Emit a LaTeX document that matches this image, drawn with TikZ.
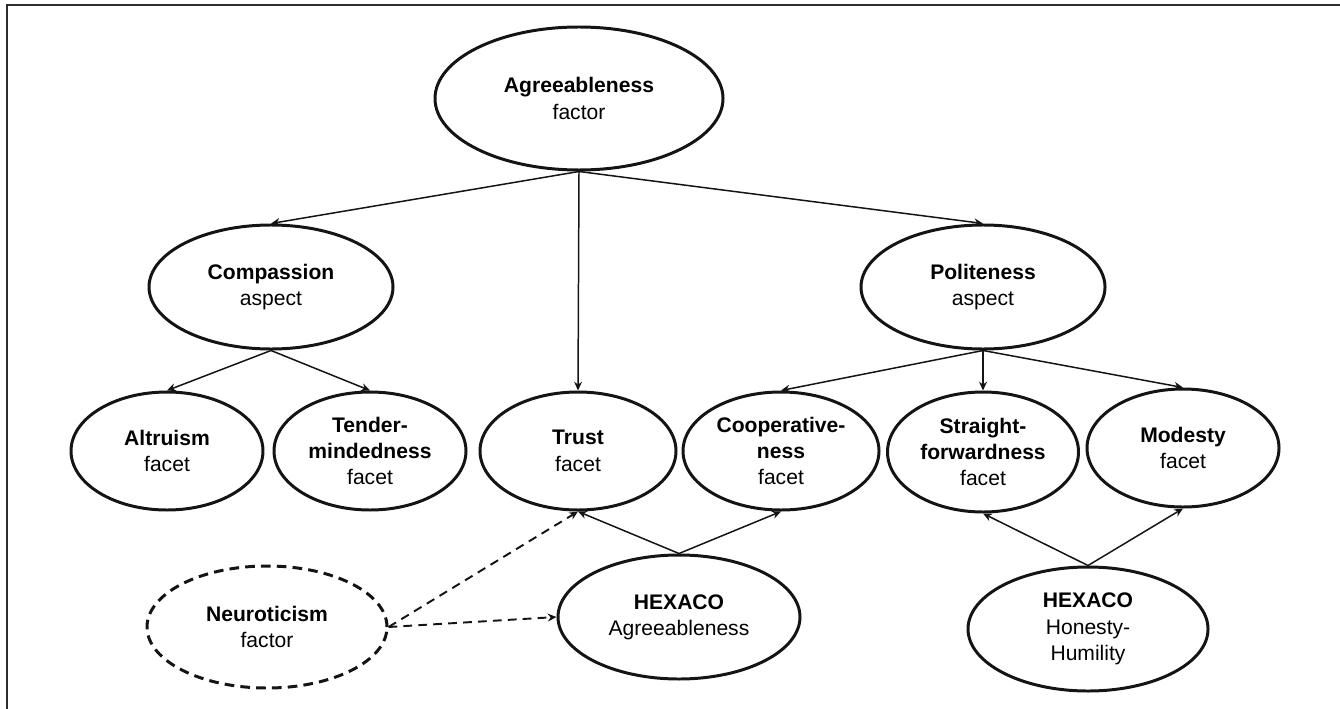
\documentclass[tikz,border=0pt]{standalone}
\usepackage{fontspec}
\setmainfont{Liberation Sans}
\usetikzlibrary{arrows.meta,shapes.geometric}
\definecolor{ink}{RGB}{20,20,20}
\definecolor{frame}{RGB}{45,45,45}
\tikzset{
  >={Stealth[length=5pt,width=4.5pt]},
  trait/.style={ellipse,draw=ink,line width=1.7pt,inner sep=0pt,
    minimum width=#1,minimum height=2.36cm,align=center,
    font=\fontsize{12}{15}\selectfont},
  trait/.default=3.84cm,
  big trait/.style={trait=4.88cm,minimum height=2.48cm},
  ghost trait/.style={trait=4.8cm,minimum height=2.44cm,dash pattern=on 5.5pt off 3.5pt},
  link/.style={->,draw=ink,line width=0.85pt},
  ghost link/.style={link,line width=1.1pt,dash pattern=on 5pt off 3.5pt},
}
\newcommand{\lvl}[2]{\textbf{#1}\\#2}

\begin{document}
\begin{tikzpicture}
  \useasboundingbox (0,0) rectangle (26.8,-14.18);
  % frame (top and left edges only)
  \draw[frame,line width=0.9pt] (26.8,-0.1) -- (0.14,-0.1) -- (0.14,-14.18);

  % factor and aspects
  \node[big trait,minimum width=5.76cm,minimum height=2.86cm] (agree) at (11.58,-1.97) {\lvl{Agreeableness}{factor}};
  \node[big trait] (comp) at (5.42,-5.74) {\lvl{Compassion}{aspect}};
  \node[big trait] (polite) at (19.66,-5.74) {\lvl{Politeness}{aspect}};

  % facets
  \node[trait] (altru) at (3.34,-9.02) {\lvl{Altruism}{facet}};
  \node[trait] (tender) at (7.40,-9.02) {\textbf{Tender-}\\\textbf{mindedness}\\facet};
  \node[trait=3.92cm] (trust) at (11.56,-9.02) {\lvl{Trust}{facet}};
  \node[trait=3.92cm] (coop) at (15.62,-9.02) {\textbf{Cooperative-}\\\textbf{ness}\\facet};
  \node[trait=3.82cm,minimum height=2.4cm] (straight) at (19.66,-9.04) {\textbf{Straight-}\\\textbf{forwardness}\\facet};
  \node[trait] (modest) at (23.66,-8.96) {\lvl{Modesty}{facet}};

  % outside constructs
  \node[big trait,minimum width=4.84cm] (hexA) at (13.58,-12.34) {\textbf{HEXACO}\\Agreeableness};
  \node[big trait,minimum width=4.8cm] (hexH) at (21.76,-12.58) {\textbf{HEXACO}\\Honesty-\\Humility};
  \node[ghost trait] (neuro) at (5.34,-12.54) {\lvl{Neuroticism}{factor}};

  % top-down links
  \foreach \to in {comp,trust,polite} \draw[link] (agree.south) -- (\to.north);
  \foreach \to in {altru,tender} \draw[link] (comp.south) -- (\to.north);
  \foreach \to in {coop,straight,modest} \draw[link] (polite.south) -- (\to.north);

  % HEXACO links
  \foreach \to in {trust,coop} \draw[link] (hexA.north) -- (\to.south);
  \foreach \to in {straight,modest} \draw[link] (hexH.north) -- (\to.south);

  % neuroticism
  \draw[ghost link] (neuro.east) -- (trust.south);
  \draw[ghost link] (neuro.east) -- (hexA.west);
\end{tikzpicture}
\end{document}
